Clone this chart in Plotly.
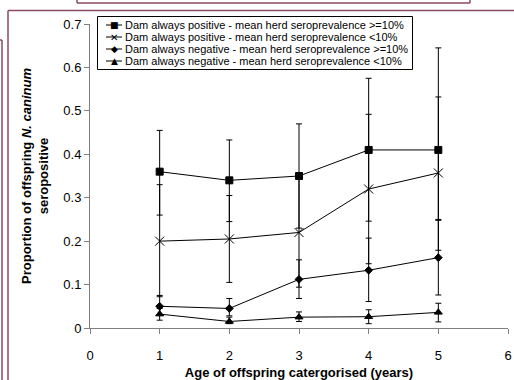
import plotly.graph_objects as go

ages = [1, 2, 3, 4, 5]
names = [
    "Dam always positive - mean herd seroprevalence >=10%",
    "Dam always positive - mean herd seroprevalence <10%",
    "Dam always negative - mean herd seroprevalence >=10%",
    "Dam always negative - mean herd seroprevalence <10%",
]
pos_high = [0.36, 0.34, 0.35, 0.41, 0.41]
pos_high_upper = [0.455, 0.433, 0.47, 0.575, 0.645]
pos_high_lower = [0.26, 0.245, 0.23, 0.246, 0.25]

pos_low = [0.20, 0.205, 0.22, 0.32, 0.357]
pos_low_upper = [0.33, 0.305, 0.345, 0.492, 0.532]
pos_low_lower = [0.072, 0.105, 0.094, 0.148, 0.179]

neg_high = [0.05, 0.045, 0.112, 0.133, 0.162]
neg_high_upper = [0.075, 0.068, 0.157, 0.207, 0.248]
neg_high_lower = [0.03, 0.028, 0.068, 0.061, 0.076]

neg_low = [0.032, 0.015, 0.025, 0.026, 0.036]
neg_low_upper = [0.045, 0.025, 0.037, 0.042, 0.057]
neg_low_lower = [0.018, 0.01, 0.015, 0.01, 0.014]

x_ticks = [0, 1, 2, 3, 4, 5, 6]
y_ticks = [0, 0.1, 0.2, 0.3, 0.4, 0.5, 0.6, 0.7]
legend_symbols = ["■", "✕", "◆", "▲"]

series = [
    (pos_high, pos_high_upper, pos_high_lower, "square", 7),
    (pos_low, pos_low_upper, pos_low_lower, "x-thin-open", 9),
    (neg_high, neg_high_upper, neg_high_lower, "diamond", 6),
    (neg_low, neg_low_upper, neg_low_lower, "triangle-up", 7),
]

fig = go.Figure()
for name, (vals, up, lo, sym, size) in zip(names, series):
    fig.add_trace(go.Scatter(
        x=ages, y=vals, name=name, mode="lines+markers", showlegend=False,
        line=dict(color="black", width=1),
        marker=dict(symbol=sym, size=size, color="black",
                    line=dict(color="black", width=1)),
        error_y=dict(type="data", symmetric=False,
                     array=[u - v for u, v in zip(up, vals)],
                     arrayminus=[v - l for v, l in zip(vals, lo)],
                     color="black", thickness=1, width=3),
    ))

# Body margin is removed in the page (post_script), so the plot area
# sits at page x 90..508, y 24..328.
W, H = 514, 380
L, T = 90, 24
PW, PH = 418, 304
R = W - L - PW
B = H - T - PH
def px(X):
    return (X - L) / PW
def py(Y):
    return (H - B - Y) / PH

border = "#8a4a60"
font = "Liberation Sans, Arial, sans-serif"
def seg(x0, y0, x1, y1, color=border, width=1.5):
    return dict(type="line", xref="paper", yref="paper", x0=px(x0), x1=px(x1),
                y0=py(y0), y1=py(y1), line=dict(color=color, width=width))

shapes = [
    # page fragments around the chart
    seg(77, 3, 470, 3), seg(77, 0, 77, 3), seg(470, 0, 470, 3),
    seg(8, 10.5, 514, 10.5), seg(8, 10.5, 8, 380),
    seg(0, 40, 2, 40), seg(2, 40, 2, 380),
    # legend box
    dict(type="rect", xref="paper", yref="paper", x0=px(97.5), x1=px(412.5), y0=py(69.5), y1=py(16.5),
         line=dict(color="black", width=1), fillcolor="white", layer="above"),
]
annotations = []
for i, (name, sym) in enumerate(zip(names, legend_symbols)):
    yc = 25 + 12 * i
    shapes.append(dict(type="line", xref="paper", yref="paper", x0=px(106), x1=px(122),
                       y0=py(yc), y1=py(yc), line=dict(color="black", width=1), layer="above"))
    annotations.append(dict(xref="paper", yref="paper", x=px(114), y=py(yc), text=sym,
                            showarrow=False, xanchor="center", yanchor="middle",
                            font=dict(size=9 if sym != "✕" else 10, family="DejaVu Sans", color="black")))
    annotations.append(dict(xref="paper", yref="paper", x=px(123), y=py(yc), text=name,
                            showarrow=False, xanchor="left", yanchor="middle",
                            font=dict(size=11, family=font, color="black")))

fig.update_layout(
    width=W, height=H,
    margin=dict(l=L, r=R, t=T, b=B, autoexpand=False),
    paper_bgcolor="white", plot_bgcolor="white",
    font=dict(family=font, size=13, color="black"),
    showlegend=False,
    shapes=shapes,
    annotations=annotations,
    xaxis=dict(range=[0, 6], tickvals=x_ticks, ticktext=[str(t) for t in x_ticks],
               showgrid=False, zeroline=False, showline=True, linecolor="#808080",
               linewidth=1, ticks="outside", ticklen=5, tickcolor="#808080",
               tickfont=dict(size=13), automargin=False, ticklabelstandoff=10,
               title=dict(text="<b>Age of offspring catergorised (years)</b>",
                          font=dict(size=13), standoff=6)),
    yaxis=dict(range=[0, 0.7], tickvals=y_ticks,
               ticktext=["0", "0.1", "0.2", "0.3", "0.4", "0.5", "0.6", "0.7"],
               showgrid=False, zeroline=False, showline=True, linecolor="#808080",
               linewidth=1, ticks="outside", ticklen=5, tickcolor="#808080",
               tickfont=dict(size=13), automargin=False,
               title=dict(text="<b>Proportion of offspring <i>N. caninum</i><br>seropositive</b>",
                          font=dict(size=13), standoff=11)),
)
fig.write_html(
    "out.html",
    config={"displayModeBar": False},
    post_script="document.body.style.margin='0';document.body.style.overflow='hidden';",
)
